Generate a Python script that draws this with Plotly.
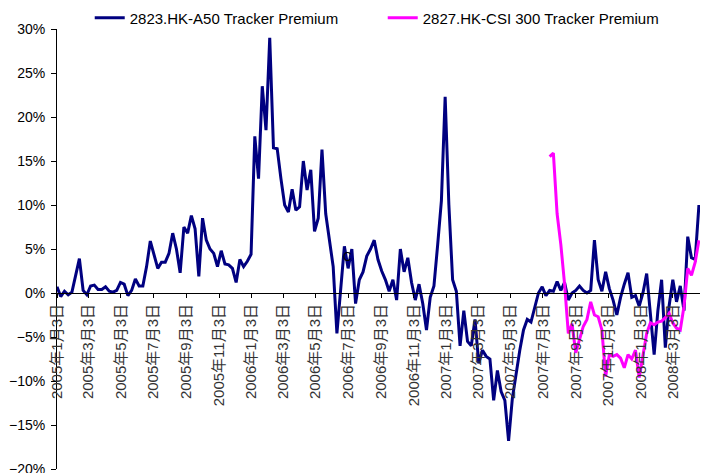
import pandas as pd
import plotly.graph_objects as go

# Weekly observation dates (Mondays) from 2005-01-03
week_dates = pd.date_range("2005-01-03", periods=173, freq="7D")

# 2823.HK A50 tracker premium (%)
a50_premium = [
    0.7, -0.4, 0.2, -0.2, 0.1, 2.1, 3.9, 0.3, -0.2, 0.8,
    0.9, 0.4, 0.4, 0.7, 0.2, 0.1, 0.3, 1.2, 1.0, -0.3,
    0.3, 1.6, 0.8, 0.8, 3.0, 5.9, 4.3, 2.8, 3.5, 3.5,
    4.5, 6.8, 5.0, 2.3, 7.5, 6.8, 8.8, 7.3, 1.9, 8.5,
    6.0, 5.0, 4.5, 3.0, 4.8, 3.3, 3.2, 2.8, 1.2, 3.8,
    3.0, 3.6, 4.4, 17.8, 13.0, 23.5, 18.5, 29.0, 16.5, 16.4,
    13.0, 10.0, 9.2, 11.8, 9.4, 9.8, 15.0, 11.7, 14.0, 7.0,
    8.5, 16.3, 9.0, 6.2, 3.0, -4.6, 0.0, 5.3, 2.8, 5.0,
    -1.2, 1.5, 2.4, 4.2, 5.0, 6.0, 3.8, 2.5, 1.5, 0.2,
    1.5, -0.8, 5.0, 2.4, 4.0, 1.2, -0.8, 1.0, -1.2, -4.2,
    -0.5, 0.8, 5.5, 10.5, 22.3, 10.0, 1.5, 0.2, -6.0, -2.0,
    -5.5, -6.0, -3.0, -8.0, -6.5, -7.2, -7.5, -12.2, -8.8, -11.2,
    -12.2, -16.8, -12.0, -9.0, -6.5, -4.2, -3.0, -3.3, -1.5, 0.0,
    0.7, -0.3, 0.3, 0.2, 1.3, 0.3, 1.2, -0.8, 0.0, 0.3,
    0.8, 0.3, 0.0, 0.3, 6.0, 1.5, 0.2, 2.4, 0.5, -0.8,
    -2.5, -0.5, 1.0, 2.3, -0.5, -0.3, -1.5, 0.0, 2.2, -2.5,
    -7.0, -2.0, 1.5, -6.2, -1.5, 1.5, -1.0, 0.8, -2.0, 6.4,
    4.0, 3.8, 10.0,
]

# 2827.HK CSI 300 tracker premium (%), listed from mid-July 2007
csi300_first_week = 132
csi300_premium = [
    15.5, 15.9, 9.0, 5.5, 1.0, -4.6, -3.5, -6.8, -5.3, -3.8,
    -3.0, -1.0, -2.5, -2.7, -4.2, -9.5, -7.0, -7.2, -7.0, -7.4,
    -8.5, -7.0, -7.5, -6.5, -9.6, -7.0, -4.6, -3.4, -3.6, -3.3,
    -3.2, -2.8, -2.3, -3.4, -4.0, -4.2, -1.5, 2.8, 2.0, 3.5,
    6.0,
]

tick_dates = [
    "2005-01-03", "2005-03-03", "2005-05-03", "2005-07-03", "2005-09-03",
    "2005-11-03", "2006-01-03", "2006-03-03", "2006-05-03", "2006-07-03",
    "2006-09-03", "2006-11-03", "2007-01-03", "2007-03-03", "2007-05-03",
    "2007-07-03", "2007-09-03", "2007-11-03", "2008-01-03", "2008-03-03",
]
tick_labels = [
    "2005年1月3日", "2005年3月3日", "2005年5月3日", "2005年7月3日", "2005年9月3日",
    "2005年11月3日", "2006年1月3日", "2006年3月3日", "2006年5月3日", "2006年7月3日",
    "2006年9月3日", "2006年11月3日", "2007年1月3日", "2007年3月3日", "2007年5月3日",
    "2007年7月3日", "2007年9月3日", "2007年11月3日", "2008年1月3日", "2008年3月3日",
]

series_names = ["2823.HK-A50 Tracker Premium", "2827.HK-CSI 300 Tracker Premium"]

# stray glyph visible in the source chart
stray_text = "C"
stray_date = "2006-07-02"
stray_value = 4.1

FONT = "Liberation Sans, Arial, Noto Sans CJK SC, sans-serif"

fig = go.Figure()
fig.add_trace(go.Scatter(
    x=week_dates, y=a50_premium, mode="lines", name=series_names[0],
    line=dict(color="#000080", width=3),
))
fig.add_trace(go.Scatter(
    x=week_dates[csi300_first_week:], y=csi300_premium, mode="lines", name=series_names[1],
    line=dict(color="#FF00FF", width=3),
))

fig.add_annotation(
    x=stray_date, y=stray_value, text=stray_text, showarrow=False,
    font=dict(size=12, color="#000000"), xanchor="center", yanchor="middle",
)

fig.update_layout(
    width=701, height=473,
    margin=dict(l=57, r=1, t=29, b=4, autoexpand=False),
    paper_bgcolor="white", plot_bgcolor="white",
    font=dict(family=FONT, size=14, color="#000000"),
    showlegend=True,
    legend=dict(
        orientation="h", xref="container", yref="container",
        x=0.128, y=0.962, xanchor="left", yanchor="middle",
        font=dict(size=15), bgcolor="rgba(0,0,0,0)",
        entrywidthmode="pixels", entrywidth=248,
    ),
    xaxis=dict(
        type="date", range=["2005-01-03", "2008-04-23"],
        anchor="free", position=0.4, automargin=False,
        showline=True, linecolor="#000000", linewidth=1,
        ticks="outside", ticklen=4, tickcolor="#000000",
        tickvals=tick_dates, ticktext=tick_labels, tickangle=-90,
        tickfont=dict(size=15, color="#333333"),
        showgrid=False, zeroline=False,
    ),
    yaxis=dict(
        range=[-20, 30], dtick=5, ticksuffix="%", automargin=False,
        showline=True, linecolor="#000000", linewidth=1,
        ticks="outside", ticklen=5, tickcolor="#000000",
        ticklabelstandoff=3, ticklabeloverflow="allow",
        tickfont=dict(size=14, color="#000000"),
        showgrid=False, zeroline=False,
    ),
)

fig.write_html(
    "out.html",
    config={"displayModeBar": False},
    post_script="document.body.style.margin='0';document.body.style.padding='0';",
)
